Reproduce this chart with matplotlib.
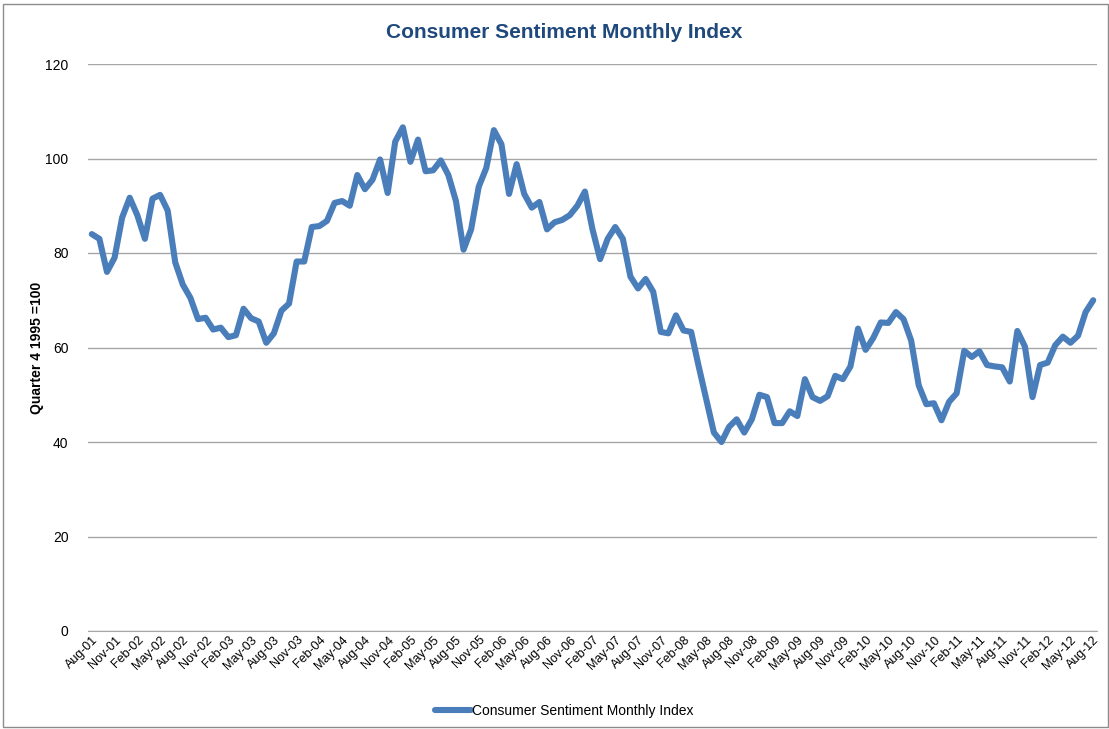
import matplotlib
matplotlib.use('Agg')
import matplotlib.pyplot as plt
import numpy as np
import pandas as pd
from matplotlib.patches import Rectangle

plt.rcParams['font.family'] = ['Liberation Sans', 'DejaVu Sans']

# monthly index, Aug-2001 .. Aug-2012
months = pd.date_range('2001-08-01', '2012-08-01', freq='MS')
sentiment = [
    84.0, 83.0, 76.0, 79.0, 87.5, 91.7, 88.0, 83.0, 91.5, 92.3, 89.0, 78.0,   # Aug-01 .. Jul-02
    73.3, 70.5, 66.0, 66.3, 63.8, 64.2, 62.2, 62.6, 68.2, 66.2, 65.5, 61.0,   # Aug-02 .. Jul-03
    63.0, 67.8, 69.3, 78.2, 78.2, 85.5, 85.7, 86.8, 90.6, 91.0, 90.0, 96.5,   # Aug-03 .. Jul-04
    93.5, 95.5, 99.8, 92.7, 103.6, 106.6, 99.3, 104.0, 97.3, 97.5, 99.6, 96.5,  # Aug-04 .. Jul-05
    91.0, 80.7, 85.0, 94.0, 98.0, 106.0, 103.0, 92.5, 98.8, 92.5, 89.6, 90.8,   # Aug-05 .. Jul-06
    85.0, 86.5, 87.0, 88.0, 90.0, 93.0, 85.0, 78.7, 83.0, 85.5, 83.0, 75.0,   # Aug-06 .. Jul-07
    72.5, 74.5, 71.8, 63.3, 63.0, 66.8, 63.6, 63.3, 56.0, 49.0, 42.0, 40.0,   # Aug-07 .. Jul-08
    43.2, 44.8, 42.0, 44.8, 50.0, 49.5, 44.0, 44.0, 46.5, 45.5, 53.3, 49.5,   # Aug-08 .. Jul-09
    48.7, 49.7, 54.0, 53.3, 56.0, 64.0, 59.5, 62.0, 65.3, 65.2, 67.5, 66.0,   # Aug-09 .. Jul-10
    61.5, 52.0, 48.0, 48.2, 44.6, 48.5, 50.3, 59.3, 58.0, 59.2, 56.3, 56.0,   # Aug-10 .. Jul-11
    55.8, 52.8, 63.5, 60.2, 49.5, 56.3, 56.8, 60.5, 62.3, 61.0, 62.5, 67.5,   # Aug-11 .. Jul-12
    70.0,                                                                     # Aug-12
]
month_labels = [d.strftime('%b-%y') for d in months]
y_ticks = [0, 20, 40, 60, 80, 100, 120]

line_color = '#4A7EBB'
grid_color = '#A6A6A6'

fig = plt.figure(figsize=(11.09, 7.29), dpi=100)
# outer chart frame
fig.patches.append(Rectangle((3/1109, 2/729), 1 - 4/1109, 1 - 6/729, transform=fig.transFigure,
                             fill=False, edgecolor='#8C8C8C', linewidth=1.0))

ax = fig.add_axes([88/1109, 1 - 631/729, (1097 - 88)/1109, (631 - 64)/729])

x = np.arange(len(sentiment))
ax.plot(x, sentiment, color=line_color, linewidth=4.4, solid_joinstyle='round',
        solid_capstyle='round', label='Consumer Sentiment Monthly Index')

ax.set_xlim(-0.5, len(sentiment) - 0.5)
ax.set_ylim(0, 120)
ax.set_yticks(y_ticks)
ax.yaxis.grid(True, color=grid_color, linewidth=1.0)
ax.set_axisbelow(True)
for s in ['left', 'right', 'top']:
    ax.spines[s].set_visible(False)
ax.spines['bottom'].set_color(grid_color)
ax.tick_params(axis='y', length=0, pad=14, labelsize=10)
ax.tick_params(axis='x', length=0, pad=2, labelsize=9)

tick_pos = x[::3]
ax.set_xticks(tick_pos)
ax.set_xticklabels(month_labels[::3], rotation=45, ha='right', rotation_mode='anchor')

ax.set_ylabel('Quarter 4 1995 =100', fontsize=10, fontweight='bold')
ax.yaxis.set_label_coords((44 - 88) / 1009, 0.5)
fig.text(0.509, 1 - 32/729, 'Consumer Sentiment Monthly Index', ha='center', va='center',
         fontsize=15, fontweight='bold', color='#1F497D')

fig.legend(loc='center', bbox_to_anchor=(0.509, 1 - 711/729), frameon=False, fontsize=10,
           handlelength=2.6, handletextpad=0.1)

plt.savefig('out.png', dpi=100)
plt.close(fig)
